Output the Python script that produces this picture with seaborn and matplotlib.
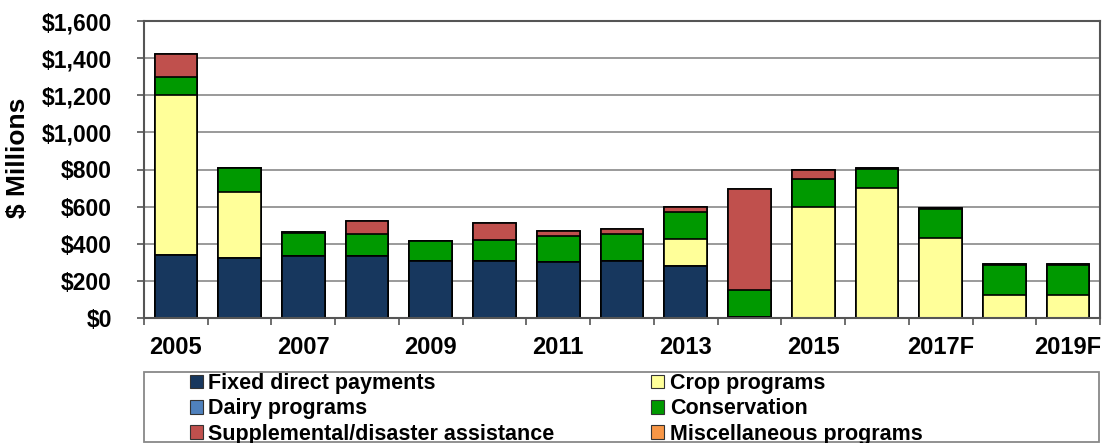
import numpy as np
import pandas as pd
import matplotlib
matplotlib.use("Agg")
import matplotlib.pyplot as plt
from matplotlib.patches import Rectangle, Patch
import seaborn as sns

# ---- data ($ millions) ----
years = ["2005", "2006", "2007", "2008", "2009", "2010", "2011", "2012",
         "2013", "2014", "2015", "2016", "2017F", "2018F", "2019F"]
fixed_direct = [340, 325, 335, 335, 305, 305, 300, 305, 280, 5, 0, 0, 0, 0, 0]
dairy = [0, 0, 0, 0, 0, 0, 0, 0, 0, 0, 0, 0, 0, 0, 0]
crop = [860, 355, 0, 0, 0, 0, 0, 0, 145, 0, 600, 700, 430, 125, 125]
conservation = [100, 130, 125, 115, 110, 115, 140, 150, 145, 145, 150, 105, 155, 160, 160]
supplemental = [120, 0, 5, 70, 0, 90, 27, 22, 28, 545, 48, 5, 5, 5, 5]
misc = [0, 0, 0, 0, 0, 0, 0, 0, 0, 0, 0, 0, 0, 0, 0]
shown_years = ["2005", "2007", "2009", "2011", "2013", "2015", "2017F", "2019F"]
yticks = [0, 200, 400, 600, 800, 1000, 1200, 1400, 1600]

series_names = ["Fixed direct payments", "Dairy programs", "Crop programs",
                "Conservation", "Supplemental/disaster assistance",
                "Miscellaneous programs"]
series_vals = [fixed_direct, dairy, crop, conservation, supplemental, misc]
colors = {"Fixed direct payments": "#17375E",
          "Dairy programs": "#4F81BD",
          "Crop programs": "#FFFF99",
          "Conservation": "#009900",
          "Supplemental/disaster assistance": "#C0504D",
          "Miscellaneous programs": "#F79646"}

sns.set_theme(style="white")
plt.rcParams["font.family"] = ["Liberation Sans", "DejaVu Sans"]
plt.rcParams["font.weight"] = "bold"
plt.rcParams["text.color"] = "black"
plt.rcParams["axes.labelcolor"] = "black"
plt.rcParams["xtick.color"] = "black"
plt.rcParams["ytick.color"] = "black"

W, H = 1109, 443
fig = plt.figure(figsize=(W / 100, H / 100), dpi=100)
ax = fig.add_axes([144 / W, 1 - 318 / H, (1100 - 144) / W, (318 - 21) / H])

df = pd.DataFrame({"year": years})
cum = np.zeros(len(years))
cums = []
for name, vals in zip(series_names, series_vals):
    cum = cum + np.array(vals, dtype=float)
    cums.append((name, cum.copy()))

# draw from the top layer down so lower layers cover
for name, c in reversed(cums):
    d = df.copy()
    d["value"] = c
    sns.barplot(data=d, x="year", y="value", order=years, color=colors[name],
                saturation=1, width=0.67, edgecolor="black", linewidth=1.2,
                errorbar=None, ax=ax)

ax.set_ylim(0, 1600)
ax.set_xlim(-0.5, len(years) - 0.5)
ax.set_yticks(yticks)
ax.set_yticklabels([f"${v:,}" for v in yticks], fontsize=16.5, fontweight="bold",
                   color="black")
ax.yaxis.grid(True, color="#9a9a9a", linewidth=1.4)
ax.set_axisbelow(True)

major_pos = [years.index(y) for y in shown_years]
ax.set_xticks(major_pos)
ax.set_xticklabels(shown_years, fontsize=17, fontweight="bold", color="black")
ax.set_xticks(np.arange(-0.5, len(years), 1.0), minor=True)
ax.tick_params(axis="x", which="major", length=0, pad=13)
ax.tick_params(axis="x", which="minor", length=5, width=1.2, color="#555555",
               direction="out", bottom=True)
ax.tick_params(axis="y", which="major", length=5, width=1.2, color="#555555",
               direction="out", left=True, pad=18)
ax.set_xlabel("")
ax.set_ylabel("$ Millions", fontsize=19, fontweight="bold", color="black")
ax.yaxis.set_label_coords(-0.119, 0.54)

for s in ax.spines.values():
    s.set_visible(True)
    s.set_color("#555555")
    s.set_linewidth(1.5)

# legend
order = ["Fixed direct payments", "Dairy programs", "Supplemental/disaster assistance",
         "Crop programs", "Conservation", "Miscellaneous programs"]
handles = [Patch(facecolor=colors[n], edgecolor="#333333", linewidth=0.8) for n in order]
leg = fig.legend(handles, order, loc="upper left",
                 bbox_to_anchor=(190 / W, 1 - 373 / H), ncol=2, frameon=False,
                 borderpad=0, borderaxespad=0, handlelength=0.6, handleheight=0.6,
                 handletextpad=0.25, labelspacing=0.2, columnspacing=4.5,
                 prop={"size": 15.5, "weight": "bold"})
for t in leg.get_texts():
    t.set_color("black")
fig.patches.append(Rectangle((144 / W, 1 - 442 / H), (1099 - 144) / W, (442 - 372) / H,
                             transform=fig.transFigure, fill=False,
                             edgecolor="#888888", linewidth=1.3))

fig.savefig("out.png", dpi=100)
